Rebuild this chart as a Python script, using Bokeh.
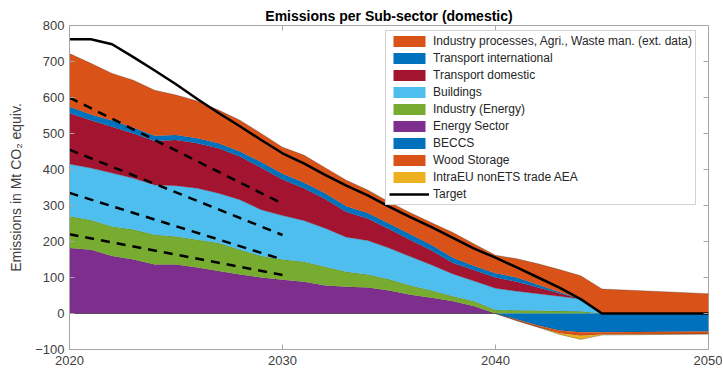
import numpy as np
from bokeh.plotting import figure
from bokeh.models import Range1d, Legend, LegendItem, FixedTicker
from bokeh.embed import file_html
from bokeh.resources import INLINE

# ---------------- data (Mt CO2 equiv.) ----------------
years = [2020, 2021, 2022, 2023, 2024, 2025, 2026, 2027, 2028, 2029, 2030,
         2031, 2032, 2033, 2034, 2035, 2036, 2037, 2038, 2039, 2040,
         2041, 2042, 2043, 2044, 2045, 2050]

energy_sector = [182, 177, 160, 150, 136, 136, 128, 118, 108, 100, 94,
                 88, 78, 74, 72, 64, 52, 44, 34, 20, 0,
                 0, 0, 0, 0, 0, 0]
industry_energy = [88, 83, 82, 83, 83, 78, 77, 78, 69, 60, 56,
                   56, 52, 42, 36, 31, 26, 20, 14, 14, 10,
                   9, 8, 7, 6, 0, 0]
buildings = [145, 144, 148, 143, 138, 141, 143, 138, 139, 128, 122,
             114, 107, 96, 95, 87, 80, 71, 62, 56, 60,
             53, 47, 41, 34, 0, 0]
transport_domestic = [141, 133, 129, 124, 122, 127, 125, 125, 120, 117, 100,
                      90, 81, 70, 61, 53, 46, 40, 30, 30, 30,
                      26, 17, 8, 0, 0, 0]
transport_international = [18, 16, 17, 16, 15, 14, 14, 14, 14, 16, 16,
                           16, 16, 16, 15, 15, 16, 15, 15, 12, 12,
                           12, 8, 4, 0, 0, 0]
industry_processes = [148, 142, 131, 132, 126, 111, 103, 92, 87, 79, 74,
                      76, 71, 72, 64, 60, 60, 62, 70, 61, 50,
                      52, 58, 62, 65, 68, 55]

beccs = [0, 0, 0, 0, 0, 0, 0, 0, 0, 0, 0,
         0, 0, 0, 0, 0, 0, 0, 0, 0, 0,
         -17, -33, -47, -52, -52, -50]
wood_storage = [0, 0, 0, 0, 0, 0, 0, 0, 0, 0, 0,
                0, 0, 0, 0, 0, 0, 0, 0, 0, 0,
                -3, -5, -8, -10, -6, -7]
intra_eu = [0, 0, 0, 0, 0, 0, 0, 0, 0, 0, 0,
            0, 0, 0, 0, 0, 0, 0, 0, 0, 0,
            0, 0, -3, -10, -2, 0]

target = [762, 762, 748, 712, 675, 637, 596, 557, 520, 482, 445,
          417, 385, 355, 328, 297, 268, 240, 210, 180, 155,
          128, 100, 72, 40, 0, 0]

dash_years = [2020, 2030]
dash_1 = [600, 305]
dash_2 = [455, 218]
dash_3 = [335, 150]
dash_4 = [220, 107]

x_ticks = [2020, 2030, 2040, 2050]
y_ticks = [-100, 0, 100, 200, 300, 400, 500, 600, 700, 800]

pos_names = ["Energy Sector", "Industry (Energy)", "Buildings",
             "Transport domestic", "Transport international",
             "Industry processes, Agri., Waste man. (ext. data)"]
pos_series = [energy_sector, industry_energy, buildings,
              transport_domestic, transport_international, industry_processes]
pos_colors = ["#7E2F8E", "#77AC30", "#4DBEEE", "#A2142F", "#0072BD", "#D95319"]

neg_names = ["BECCS", "Wood Storage", "IntraEU nonETS trade AEA"]
neg_series = [beccs, wood_storage, intra_eu]
neg_colors = ["#0072BD", "#D95319", "#EDB120"]

FONT = "Liberation Sans"
AXC = "#a6a6a6"

p = figure(frame_width=639, frame_height=324, output_backend="svg",
           toolbar_location=None,
           x_range=Range1d(2020, 2050), y_range=Range1d(-100, 800),
           min_border_left=69, min_border_right=14, min_border_top=25,
           min_border_bottom=22, title="Emissions per Sub-sector (domestic)")
p.grid.visible = False
p.background_fill_color = "white"
p.border_fill_color = "white"
p.outline_line_color = AXC
p.outline_line_width = 1

p.title.text_font = FONT
p.title.text_font_size = "14px"
p.title.text_font_style = "bold"
p.title.text_color = "black"
p.title.align = "center"
p.title.vertical_align = "top"
p.title.standoff = 0

renderers = {}
x = np.array(years, dtype=float)

base = np.zeros(len(years))
for name, s, c in zip(pos_names, pos_series, pos_colors):
    top = base + np.array(s, dtype=float)
    r = p.varea(x=x, y1=base, y2=top, fill_color=c)
    p.line(x, top, line_color="#202020", line_alpha=0.45, line_width=0.6)
    renderers[name] = r
    base = top

base = np.zeros(len(years))
for name, s, c in zip(neg_names, neg_series, neg_colors):
    bot = base + np.array(s, dtype=float)
    r = p.varea(x=x, y1=bot, y2=base, fill_color=c)
    p.line(x, bot, line_color="#202020", line_alpha=0.45, line_width=0.6)
    renderers[name] = r
    base = bot

for d in (dash_1, dash_2, dash_3, dash_4):
    p.line(dash_years, d, line_color="black", line_width=2.5, line_dash="9 7")

rt = p.line(x, target, line_color="black", line_width=2.5)
renderers["Target"] = rt

# inward ticks on the top and right edges (box on)
p.ray(x=[2050] * len(y_ticks), y=y_ticks, length=5, length_units="screen",
      angle=180, angle_units="deg", line_color=AXC, line_width=1)
p.ray(x=x_ticks, y=[800] * len(x_ticks), length=5, length_units="screen",
      angle=-90, angle_units="deg", line_color=AXC, line_width=1)

# axes
for ax in (p.xaxis[0], p.yaxis[0]):
    ax.major_label_text_font = FONT
    ax.major_label_text_font_size = "13px"
    ax.major_label_text_color = "#404040"
    ax.axis_line_color = AXC
    ax.major_tick_line_color = AXC
    ax.major_tick_in = 5
    ax.major_tick_out = 0
    ax.minor_tick_line_color = None
p.xaxis[0].ticker = FixedTicker(ticks=x_ticks)
p.yaxis[0].ticker = FixedTicker(ticks=y_ticks)
p.xaxis[0].major_label_standoff = 6
p.yaxis[0].major_label_standoff = 5
p.yaxis[0].axis_label = "Emissions in Mt CO\u2082 equiv."
p.yaxis[0].axis_label_text_font = FONT
p.yaxis[0].axis_label_text_font_size = "14px"
p.yaxis[0].axis_label_text_font_style = "normal"
p.yaxis[0].axis_label_text_color = "#404040"
p.yaxis[0].axis_label_standoff = 8

order = ["Industry processes, Agri., Waste man. (ext. data)",
         "Transport international", "Transport domestic", "Buildings",
         "Industry (Energy)", "Energy Sector", "BECCS", "Wood Storage",
         "IntraEU nonETS trade AEA", "Target"]
items = [LegendItem(label=n, renderers=[renderers[n]]) for n in order]
legend = Legend(items=items, location=(316, 144),
                label_text_font=FONT, label_text_font_size="12px",
                label_text_color="#262626",
                glyph_width=40, glyph_height=14, label_height=14,
                spacing=3, padding=3, margin=0, label_standoff=4,
                border_line_color=AXC, border_line_width=1,
                background_fill_color="white", background_fill_alpha=1)
p.add_layout(legend, "center")

open("out.html", "w").write(file_html(p, INLINE))
